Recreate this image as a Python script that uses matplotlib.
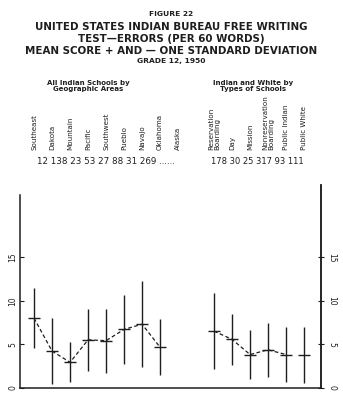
import numpy as np
import matplotlib
matplotlib.use('Agg')
import matplotlib.pyplot as plt
import matplotlib.transforms as mtransforms

# 地理分区
area_names = ['Southeast', 'Dakota', 'Mountain', 'Pacific', 'Southwest',
              'Pueblo', 'Navajo', 'Oklahoma', 'Alaska']
area_n = ['12', '138', '23', '53', '27', '88', '31', '269', '......']
area_mean = [8.0, 4.2, 2.9, 5.5, 5.4, 6.7, 7.3, 4.65, np.nan]
area_sd = [3.45, 3.8, 2.3, 3.6, 3.7, 4.0, 4.95, 3.2, np.nan]

# 学校类型
school_names = ['Reservation\nBoarding', 'Day', 'Mission',
                'Nonreservation\nBoarding', 'Public Indian', 'Public White']
school_n = ['178', '30', '25', '317', '93', '111']
school_mean = [6.5, 5.55, 3.8, 4.35, 3.8, 3.75]
school_sd = [4.4, 2.9, 2.85, 3.1, 3.2, 3.2]

W, H = 343, 401
INK = '#1e1e1e'


def fy(px):
    return 1 - px / H


fig = plt.figure(figsize=(W / 100, H / 100), dpi=100)
plt.rcParams['font.family'] = ['DejaVu Sans']

# 标题
fig.text(0.5, fy(14), 'FIGURE 22', ha='center', va='center',
         fontsize=5.4, fontweight='bold', color=INK)
title = ['UNITED STATES INDIAN BUREAU FREE WRITING',
         'TEST\u2014ERRORS (PER 60 WORDS)',
         'MEAN SCORE + AND \u2014 ONE STANDARD DEVIATION']
for i, line in enumerate(title):
    fig.text(0.5, fy(27 + 12 * i), line, ha='center', va='center',
             fontsize=7.4, fontweight='bold', color=INK)
fig.text(0.5, fy(61.5), 'GRADE 12, 1950', ha='center', va='center',
         fontsize=5.4, fontweight='bold', color=INK)

fig.text(88 / W, fy(86), 'All Indian Schools by\nGeographic Areas',
         ha='center', va='center', fontsize=5, fontweight='bold',
         color=INK, linespacing=1.1)
fig.text(253 / W, fy(86), 'Indian and White by\nTypes of Schools',
         ha='center', va='center', fontsize=5, fontweight='bold',
         color=INK, linespacing=1.1)

# 坐标轴
y_top = 23.3
ax = fig.add_axes([20 / W, fy(387.5), (321 - 20) / W, (387.5 - 185.5) / H])
ax.set_xlim(-0.78, 15.94)
ax.set_ylim(0, y_top)

x_area = np.arange(len(area_names))
x_school = np.arange(len(school_names)) + 10

for xs, m, s in [(x_area, area_mean, area_sd), (x_school, school_mean, school_sd)]:
    m = np.array(m)
    s = np.array(s)
    ax.vlines(xs, m - s, m + s, color=INK, lw=1.0)
    ax.plot(xs, m, ls='none', marker='_', ms=8, mew=1.0, color=INK)

ax.plot(x_area, area_mean, ls=(0, (3, 2)), lw=0.9, color=INK)
ax.plot(x_school[:-1], school_mean[:-1], ls=(0, (3, 2)), lw=0.9, color=INK)

ax.spines['top'].set_visible(False)
for sp in ['left', 'right', 'bottom']:
    ax.spines[sp].set_linewidth(1.1)
    ax.spines[sp].set_color(INK)
ax.spines['left'].set_bounds(0, 22.2)
ax.set_xticks([])
ax.set_yticks([0, 5, 10, 15])
ax.tick_params(axis='y', direction='in', length=3, width=0.8,
               labelsize=5.5, pad=2, colors=INK)
for t in ax.get_yticklabels():
    t.set_rotation(90)
    t.set_va('center')

ax2 = ax.twinx()
ax2.set_ylim(0, y_top)
ax2.set_yticks([0, 5, 10, 15])
for sp in ['top', 'left', 'bottom']:
    ax2.spines[sp].set_visible(False)
ax2.spines['right'].set_linewidth(1.1)
ax2.spines['right'].set_color(INK)
ax2.tick_params(axis='y', direction='inout', length=5, width=0.8,
                labelsize=5.5, pad=2, colors=INK)
for t in ax2.get_yticklabels():
    t.set_rotation(-90)
    t.set_va('center')

# 类别标签与人数
blend = mtransforms.blended_transform_factory(ax.transData, fig.transFigure)
for xs, names in [(x_area, area_names), (x_school, school_names)]:
    for x, name in zip(xs, names):
        ax.text(x, fy(150), name, transform=blend, rotation=90,
                ha='center', va='bottom', multialignment='left',
                fontsize=5.1, color=INK, linespacing=1.05)

ax.text(x_area.mean(), fy(161), ' '.join(area_n), transform=blend,
        ha='center', va='center', fontsize=6.3, color=INK)
ax.text(x_school.mean() - 0.1, fy(161), ' '.join(school_n), transform=blend,
        ha='center', va='center', fontsize=6.0, color=INK)

fig.savefig('out.png', dpi=100)
